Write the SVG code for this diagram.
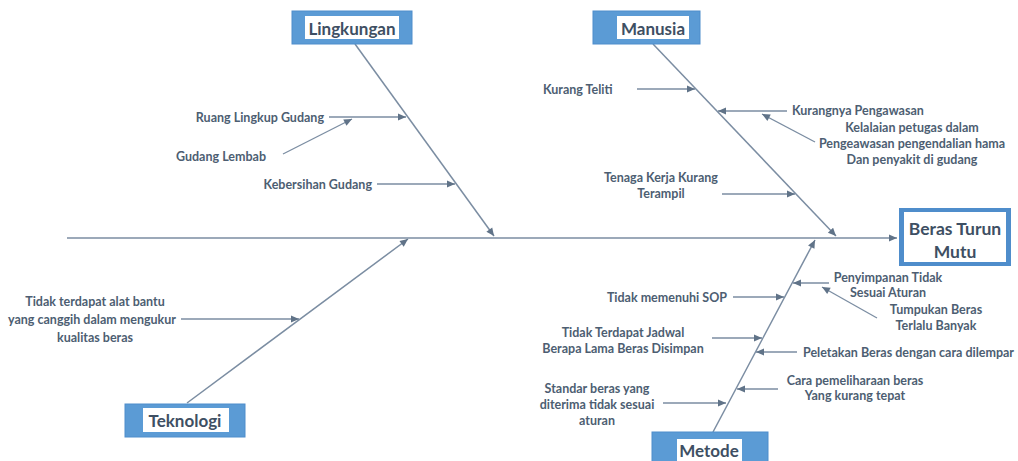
<svg xmlns="http://www.w3.org/2000/svg" width="1018" height="461" viewBox="0 0 1018 461">
<style>
.bg{fill:#ffffff}
.box{fill:#5b9bd5;stroke:#4f8dcb;stroke-width:1}
.inner{fill:#ffffff}
.title{font-family:Lato,"Liberation Sans",sans-serif;font-weight:bold;font-size:17px;fill:#3e4f63;text-anchor:middle;dominant-baseline:central}
.lbl{font-family:Lato,"Liberation Sans",sans-serif;font-weight:bold;font-size:12.5px;fill:#4d5e72;dominant-baseline:central}
.mid{text-anchor:middle}
.end{text-anchor:end}
.bone{stroke:#7b8da2;stroke-width:1.5;fill:none}
.sub{stroke:#7b8da2;stroke-width:1.3;fill:none}
</style>
<defs>
<marker id="ah" viewBox="0 0 10 10" refX="10" refY="5" markerWidth="9" markerHeight="8" markerUnits="userSpaceOnUse" orient="auto">
<path d="M0,0.5 L10,5 L0,9.5 z" fill="#607388"/>
</marker>
</defs>
<rect class="bg" x="0" y="0" width="1018" height="461"/>
<g id="connectors">
<path class="bone" d="M67,238 H897" marker-end="url(#ah)"/>
<path class="bone" d="M355,44 L494,236" marker-end="url(#ah)"/>
<path class="bone" d="M653,44 L836,236" marker-end="url(#ah)"/>
<path class="bone" d="M187,403 L408,239" marker-end="url(#ah)"/>
<path class="bone" d="M713,432 L815,240" marker-end="url(#ah)"/>
<path class="sub" d="M329,117 H406" marker-end="url(#ah)"/>
<path class="sub" d="M283,154 L352,119" marker-end="url(#ah)"/>
<path class="sub" d="M377,184 H455" marker-end="url(#ah)"/>
<path class="sub" d="M637,89 H695" marker-end="url(#ah)"/>
<path class="sub" d="M787,111 H718" marker-end="url(#ah)"/>
<path class="sub" d="M815,142 L762,114" marker-end="url(#ah)"/>
<path class="sub" d="M722,194 H795" marker-end="url(#ah)"/>
<path class="sub" d="M181,319 H299" marker-end="url(#ah)"/>
<path class="sub" d="M829,283 H793" marker-end="url(#ah)"/>
<path class="sub" d="M877,318 L822,287" marker-end="url(#ah)"/>
<path class="sub" d="M733,297 H784" marker-end="url(#ah)"/>
<path class="sub" d="M712,338 H762" marker-end="url(#ah)"/>
<path class="sub" d="M797,352 H756" marker-end="url(#ah)"/>
<path class="sub" d="M778,389 H737" marker-end="url(#ah)"/>
<path class="sub" d="M663,403 H726" marker-end="url(#ah)"/>
</g>
<g id="lingkungan">
<rect class="box" x="292" y="11" width="120" height="33"/>
<rect class="inner" x="305" y="16" width="94" height="23"/>
<text class="title" x="352" y="28">Lingkungan</text>
</g>
<g id="manusia">
<rect class="box" x="593" y="11" width="107" height="33"/>
<rect class="inner" x="617" y="16" width="72" height="23"/>
<text class="title" x="653" y="28">Manusia</text>
</g>
<g id="teknologi">
<rect class="box" x="125" y="404" width="120" height="33"/>
<rect class="inner" x="143" y="408" width="86" height="24"/>
<text class="title" x="185" y="420">Teknologi</text>
</g>
<g id="metode">
<rect class="box" x="652" y="432" width="116" height="40"/>
<rect class="inner" x="677" y="439" width="65" height="30"/>
<text class="title" x="709" y="450">Metode</text>
</g>
<g id="beras-turun-mutu">
<rect x="901" y="210" width="108" height="54" fill="#ffffff" stroke="#4f8dcb" stroke-width="4"/>
<rect x="899" y="209" width="5" height="56" fill="#4f8dcb"/>
<rect x="1006" y="209" width="5" height="56" fill="#4f8dcb"/>
<text class="title" x="955" y="228" style="font-size:17.5px">Beras Turun</text>
<text class="title" x="955" y="251" style="font-size:17.5px">Mutu</text>
</g>
<g id="c-ruang">
<text class="lbl end" x="324" y="117">Ruang Lingkup Gudang</text>
</g>
<g id="c-lembab">
<text class="lbl mid" x="221" y="156">Gudang Lembab</text>
</g>
<g id="c-kebersihan">
<text class="lbl end" x="372" y="184">Kebersihan Gudang</text>
</g>
<g id="c-teliti">
<text class="lbl" x="543" y="89">Kurang Teliti</text>
</g>
<g id="c-kurangnya">
<text class="lbl" x="792" y="110">Kurangnya Pengawasan</text>
</g>
<g id="c-kelalaian">
<text class="lbl mid" x="912" y="127">Kelalaian petugas dalam</text>
<text class="lbl mid" x="912" y="143">Pengeawasan pengendalian hama</text>
<text class="lbl mid" x="912" y="159">Dan penyakit di gudang</text>
</g>
<g id="c-tenaga">
<text class="lbl mid" x="661" y="177">Tenaga Kerja Kurang</text>
<text class="lbl mid" x="661" y="193">Terampil</text>
</g>
<g id="c-alat">
<text class="lbl mid" x="95" y="301">Tidak terdapat alat bantu</text>
<text class="lbl mid" x="92" y="319">yang canggih dalam mengukur</text>
<text class="lbl mid" x="95" y="337">kualitas beras</text>
</g>
<g id="c-penyimpanan">
<text class="lbl mid" x="888" y="277">Penyimpanan Tidak</text>
<text class="lbl mid" x="888" y="292">Sesuai Aturan</text>
</g>
<g id="c-tumpukan">
<text class="lbl mid" x="936" y="309">Tumpukan Beras</text>
<text class="lbl mid" x="936" y="325">Terlalu Banyak</text>
</g>
<g id="c-sop">
<text class="lbl end" x="727" y="297">Tidak memenuhi SOP</text>
</g>
<g id="c-jadwal">
<text class="lbl mid" x="623" y="332">Tidak Terdapat Jadwal</text>
<text class="lbl mid" x="623" y="348">Berapa Lama Beras Disimpan</text>
</g>
<g id="c-peletakan">
<text class="lbl" x="803" y="352">Peletakan Beras dengan cara dilempar</text>
</g>
<g id="c-cara">
<text class="lbl mid" x="855" y="380">Cara pemeliharaan beras</text>
<text class="lbl mid" x="855" y="395">Yang kurang tepat</text>
</g>
<g id="c-standar">
<text class="lbl mid" x="597" y="388">Standar beras yang</text>
<text class="lbl mid" x="597" y="404">diterima tidak sesuai</text>
<text class="lbl mid" x="597" y="420">aturan</text>
</g>
</svg>
